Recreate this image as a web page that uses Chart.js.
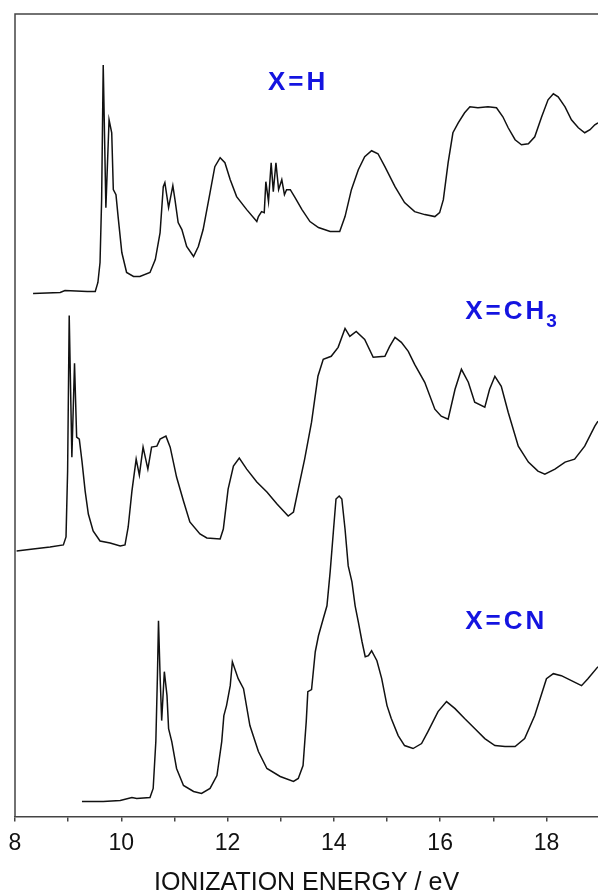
<!DOCTYPE html>
<html>
<head>
<meta charset="utf-8">
<script src="https://cdn.jsdelivr.net/npm/chart.js@4"></script>
<style>
  html, body { margin: 0; padding: 0; background: #fff; }
  #pes { display: block; }
</style>
</head>
<body>
<canvas id="pes" width="598" height="896"></canvas>
<script>
// Photoelectron spectra, offset vertically (arbitrary intensity units)
const energyH = [8.34, 8.85, 8.94, 9.36, 9.51, 9.56, 9.60, 9.63, 9.66, 9.71, 9.77, 9.82, 9.85, 9.90, 9.94, 10.01, 10.10, 10.23, 10.35, 10.54, 10.64, 10.73, 10.79, 10.82, 10.89, 10.97, 11.01, 11.07, 11.14, 11.23, 11.36, 11.45, 11.54, 11.67, 11.76, 11.86, 11.95, 12.05, 12.17, 12.36, 12.55, 12.58, 12.64, 12.69, 12.72, 12.77, 12.82, 12.86, 12.91, 12.96, 13.02, 13.07, 13.11, 13.18, 13.27, 13.40, 13.55, 13.71, 13.93, 14.11, 14.21, 14.33, 14.46, 14.58, 14.71, 14.83, 14.96, 15.15, 15.33, 15.52, 15.71, 15.90, 15.99, 16.06, 16.15, 16.24, 16.34, 16.46, 16.56, 16.71, 16.90, 17.06, 17.18, 17.28, 17.41, 17.53, 17.66, 17.78, 17.91, 18.03, 18.13, 18.22, 18.35, 18.47, 18.60, 18.72, 18.82, 18.91, 18.97];
const signalH = [524, 525, 527, 526, 526, 535, 555, 618, 753, 610, 698, 685, 628, 623, 601, 565, 545, 541, 541, 545, 558, 585, 631, 635, 610, 632, 618, 595, 588, 571, 561, 571, 588, 625, 651, 660, 655, 638, 621, 608, 596, 601, 606, 605, 636, 616, 655, 626, 655, 628, 638, 623, 628, 628, 620, 608, 596, 590, 586, 586, 601, 628, 648, 661, 667, 664, 651, 631, 615, 606, 603, 601, 605, 618, 655, 685, 695, 705, 711, 710, 711, 710, 701, 690, 678, 673, 674, 681, 701, 718, 724, 721, 711, 698, 690, 685, 688, 693, 695];

const energyCH3 = [8.03, 8.34, 8.66, 8.91, 8.96, 8.99, 9.02, 9.07, 9.12, 9.16, 9.21, 9.26, 9.32, 9.38, 9.47, 9.60, 9.79, 9.98, 10.07, 10.13, 10.20, 10.28, 10.34, 10.41, 10.50, 10.57, 10.67, 10.73, 10.84, 10.92, 11.04, 11.17, 11.29, 11.48, 11.61, 11.86, 11.92, 12.01, 12.11, 12.22, 12.36, 12.55, 12.74, 12.93, 13.14, 13.24, 13.33, 13.45, 13.58, 13.70, 13.80, 13.95, 14.08, 14.21, 14.30, 14.42, 14.58, 14.74, 14.96, 15.05, 15.15, 15.27, 15.40, 15.52, 15.71, 15.90, 16.02, 16.15, 16.28, 16.40, 16.53, 16.65, 16.84, 16.93, 17.03, 17.15, 17.28, 17.47, 17.66, 17.84, 17.97, 18.16, 18.35, 18.53, 18.72, 18.91, 18.97];
const signalCH3 = [266, 268, 270, 272, 280, 346, 502, 360, 454, 380, 378, 356, 326, 303, 286, 276, 274, 271, 272, 290, 326, 358, 342, 370, 348, 370, 371, 378, 381, 370, 340, 316, 295, 283, 279, 278, 288, 328, 351, 359, 348, 335, 325, 313, 301, 305, 328, 358, 395, 441, 458, 461, 470, 489, 481, 486, 478, 460, 461, 471, 480, 475, 466, 453, 435, 408, 401, 398, 428, 448, 435, 415, 410, 428, 441, 431, 405, 371, 355, 346, 343, 348, 355, 358, 371, 391, 396];

const energyCN = [9.26, 9.66, 9.98, 10.20, 10.29, 10.54, 10.60, 10.65, 10.68, 10.70, 10.73, 10.76, 10.81, 10.86, 10.89, 10.95, 11.04, 11.17, 11.36, 11.51, 11.67, 11.80, 11.89, 11.93, 11.98, 12.05, 12.09, 12.20, 12.30, 12.42, 12.58, 12.74, 12.99, 13.24, 13.33, 13.42, 13.48, 13.51, 13.58, 13.65, 13.71, 13.80, 13.87, 13.93, 13.99, 14.04, 14.10, 14.15, 14.21, 14.27, 14.34, 14.40, 14.46, 14.53, 14.59, 14.65, 14.71, 14.81, 14.90, 15.00, 15.08, 15.21, 15.33, 15.49, 15.65, 15.77, 15.96, 16.12, 16.28, 16.46, 16.65, 16.84, 17.03, 17.22, 17.41, 17.59, 17.78, 18.00, 18.13, 18.28, 18.47, 18.66, 18.78, 18.97];
const signalCN = [15, 15, 16, 19, 18, 19, 28, 75, 141, 196, 141, 96, 145, 121, 88, 75, 48, 31, 25, 23, 28, 41, 75, 101, 111, 131, 155, 138, 128, 91, 65, 48, 40, 35, 38, 51, 95, 125, 127, 165, 181, 198, 211, 245, 285, 318, 321, 318, 288, 251, 235, 211, 195, 175, 160, 161, 166, 156, 138, 111, 98, 81, 71, 68, 73, 85, 105, 115, 108, 98, 88, 78, 71, 70, 70, 78, 101, 138, 143, 141, 136, 131, 138, 150];

const xTicks = [8, 9, 10, 11, 12, 13, 14, 15, 16, 17, 18];
const xLabelled = [8, 10, 12, 14, 16, 18];

// label text, anchor in data coords (eV, intensity)
const labels = [
  { text: 'X=H', sub: '', x: 12.76, y: 735 },
  { text: 'X=CH', sub: '3', x: 16.47, y: 506 },
  { text: 'X=CN', sub: '', x: 16.47, y: 195 }
];

function toPoints(xs, ys) {
  return xs.map((x, i) => ({ x: x, y: ys[i] }));
}

const frame = {
  id: 'frame',
  afterDraw(chart) {
    const { ctx, chartArea: a } = chart;
    ctx.save();
    ctx.strokeStyle = '#444';
    ctx.lineWidth = 1.5;
    ctx.beginPath();
    ctx.moveTo(a.left, a.bottom);
    ctx.lineTo(a.left, a.top);
    ctx.lineTo(a.right + 2, a.top);
    ctx.stroke();

    const xs = chart.scales.x, ys = chart.scales.y;
    ctx.fillStyle = '#1414e0';
    ctx.textBaseline = 'middle';
    ctx.textAlign = 'left';
    labels.forEach(l => {
      const px = xs.getPixelForValue(l.x), py = ys.getPixelForValue(l.y);
      ctx.font = "bold 26px 'Liberation Sans', Arial, sans-serif";
      ctx.letterSpacing = '3px';
      ctx.fillText(l.text, px, py);
      if (l.sub) {
        const w = ctx.measureText(l.text).width;
        ctx.font = "bold 19px 'Liberation Sans', Arial, sans-serif";
        ctx.letterSpacing = '0px';
        ctx.fillText(l.sub, px + w - 1, py + 10);
      }
    });
    ctx.restore();
  }
};

const lineStyle = { borderColor: '#111', borderWidth: 1.5, pointRadius: 0, fill: false, tension: 0 };

new Chart(document.getElementById('pes'), {
  type: 'line',
  data: {
    datasets: [
      { label: 'X=H', data: toPoints(energyH, signalH), ...lineStyle },
      { label: 'X=CH3', data: toPoints(energyCH3, signalCH3), ...lineStyle },
      { label: 'X=CN', data: toPoints(energyCN, signalCN), ...lineStyle }
    ]
  },
  options: {
    responsive: false,
    animation: false,
    layout: { padding: { left: 15, top: 14, right: 0, bottom: 0 } },
    plugins: { legend: { display: false }, tooltip: { enabled: false } },
    scales: {
      x: {
        type: 'linear',
        min: 8,
        max: 18.97,
        afterBuildTicks: axis => {
          axis.ticks = xTicks.map(v => ({ value: v }));
        },
        ticks: {
          autoSkip: false,
          maxRotation: 0,
          padding: 8,
          color: '#111',
          font: { family: "'Liberation Sans', Arial, sans-serif", size: 23 },
          callback: v => xLabelled.includes(v) ? String(v) : ''
        },
        grid: { drawOnChartArea: false, drawTicks: true, tickLength: 5, color: '#444', lineWidth: 1.5 },
        border: { display: true, color: '#444', width: 1.5 },
        title: {
          display: true,
          text: 'IONIZATION ENERGY / eV',
          color: '#111',
          padding: { top: 6, bottom: 0 },
          font: { family: "'Liberation Sans', Arial, sans-serif", size: 25, lineHeight: 1.0 }
        }
      },
      y: { display: false, min: 0, max: 804 }
    }
  },
  plugins: [frame]
});
</script>
</body>
</html>
